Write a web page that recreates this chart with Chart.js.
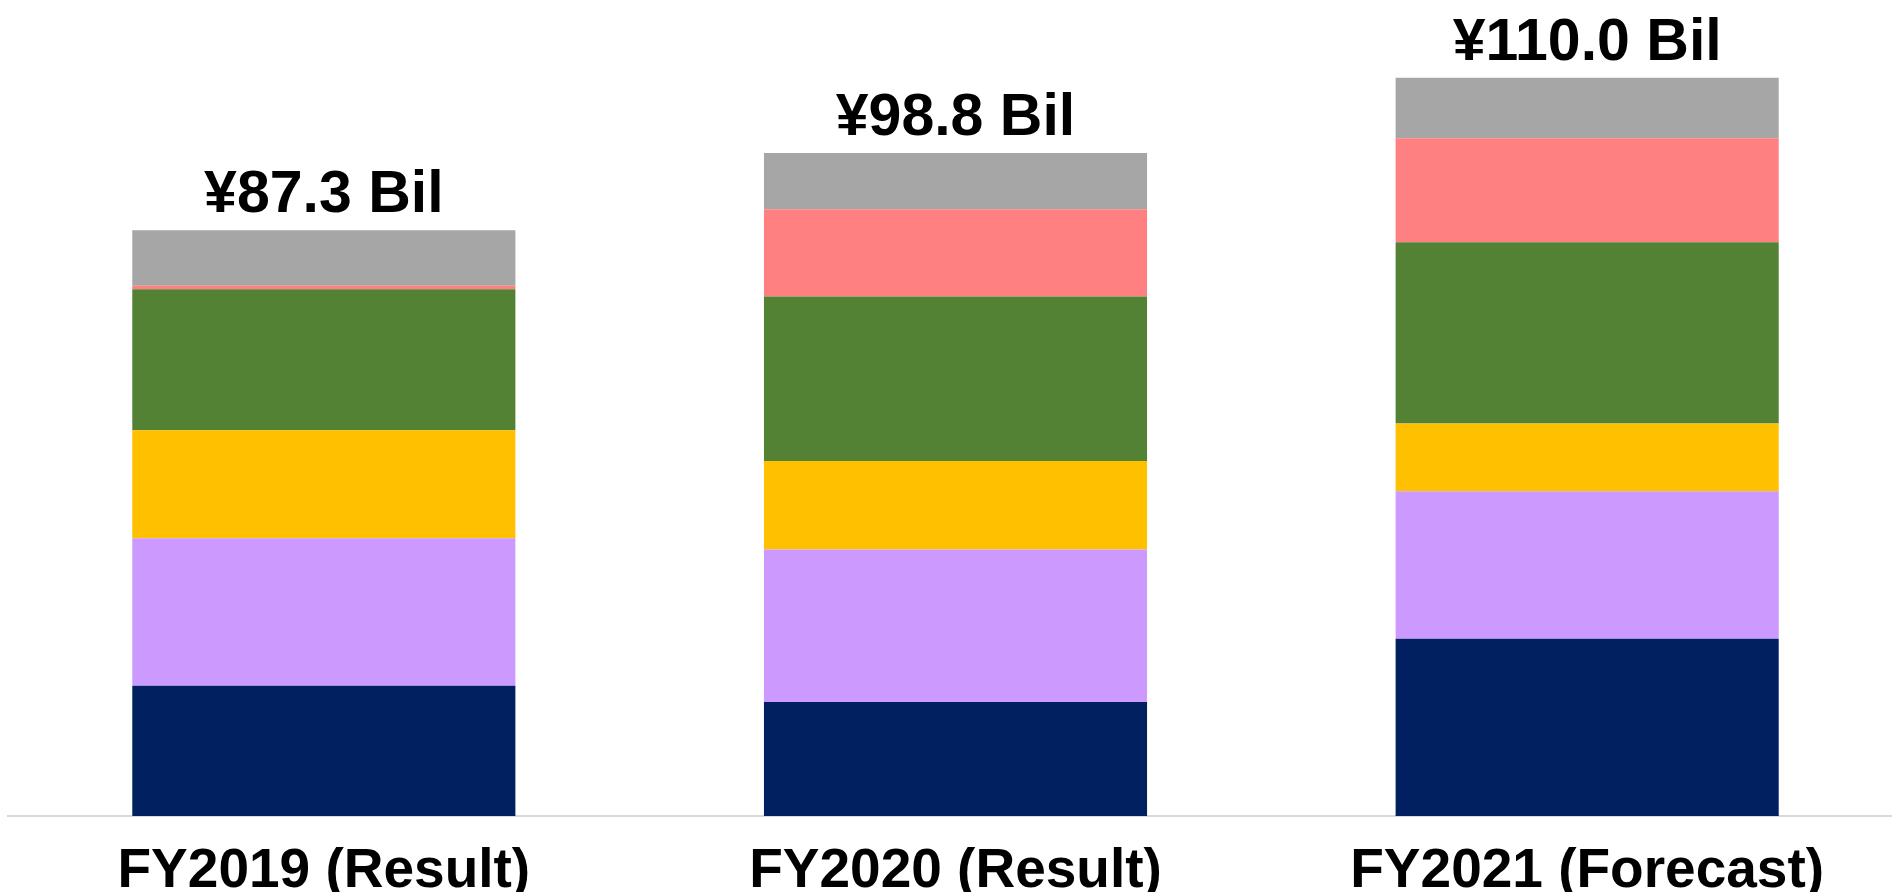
<!DOCTYPE html>
<html>
<head>
<meta charset="utf-8">
<script src="https://cdn.jsdelivr.net/npm/chart.js@4/dist/chart.umd.min.js"></script>
<style>
    html, body { margin: 0; padding: 0; background: #fff; overflow: hidden; }
    #wrap { width: 1903px; height: 892px; }
</style>
</head>
<body>
<div id="wrap"><canvas id="chart"></canvas></div>
<script>
const categories = ["FY2019 (Result)", "FY2020 (Result)", "FY2021 (Forecast)"];
const totalLabels = ["¥87.3 Bil", "¥98.8 Bil", "¥110.0 Bil"];

// stacked from the bottom up (¥ billions)
const navyValues   = [19.4, 17.0, 26.4];
const purpleValues = [22.0, 22.7, 22.0];
const yellowValues = [16.1, 13.2, 10.1];
const greenValues  = [21.0, 24.5, 27.0];
const pinkValues   = [0.5, 13.0, 15.5];
const grayValues   = [8.3, 8.4, 9.0];

const totalsPlugin = {
    id: "totals",
    afterDatasetsDraw(chart) {
        const ctx = chart.ctx;
        const last = chart.getDatasetMeta(chart.data.datasets.length - 1);
        ctx.save();
        ctx.font = "bold 59px 'Liberation Sans', Arial, sans-serif";
        ctx.fillStyle = "#000";
        ctx.textAlign = "center";
        ctx.textBaseline = "alphabetic";
        last.data.forEach((bar, i) => {
            ctx.fillText(totalLabels[i], bar.x, bar.y - 18);
        });
        ctx.restore();
    }
};

const makeSet = (label, data, color) => ({
    label: label,
    data: data,
    backgroundColor: color,
    borderWidth: 0,
    barPercentage: 0.6065,
    categoryPercentage: 1.0
});

new Chart(document.getElementById("chart"), {
    type: "bar",
    data: {
        labels: categories,
        datasets: [
            makeSet("Segment 1", navyValues, "#002060"),
            makeSet("Segment 2", purpleValues, "#CC99FF"),
            makeSet("Segment 3", yellowValues, "#FFC000"),
            makeSet("Segment 4", greenValues, "#548235"),
            makeSet("Segment 5", pinkValues, "#FF8080"),
            makeSet("Segment 6", grayValues, "#A6A6A6")
        ]
    },
    options: {
        responsive: true,
        maintainAspectRatio: false,
        animation: false,
        layout: { padding: { left: 8, right: 0, top: 0, bottom: -36 } },
        plugins: {
            legend: { display: false },
            tooltip: { enabled: false }
        },
        scales: {
            x: {
                stacked: true,
                grid: { display: false, drawTicks: false },
                border: { display: true, color: "#D9D9D9", width: 2 },
                ticks: {
                    color: "#000",
                    padding: 32,
                    font: { family: "'Liberation Sans', Arial, sans-serif", size: 55, weight: "bold", lineHeight: "48px" }
                }
            },
            y: {
                stacked: true,
                display: false,
                min: 0,
                max: 121.6
            }
        }
    },
    plugins: [totalsPlugin]
});
</script>
</body>
</html>
